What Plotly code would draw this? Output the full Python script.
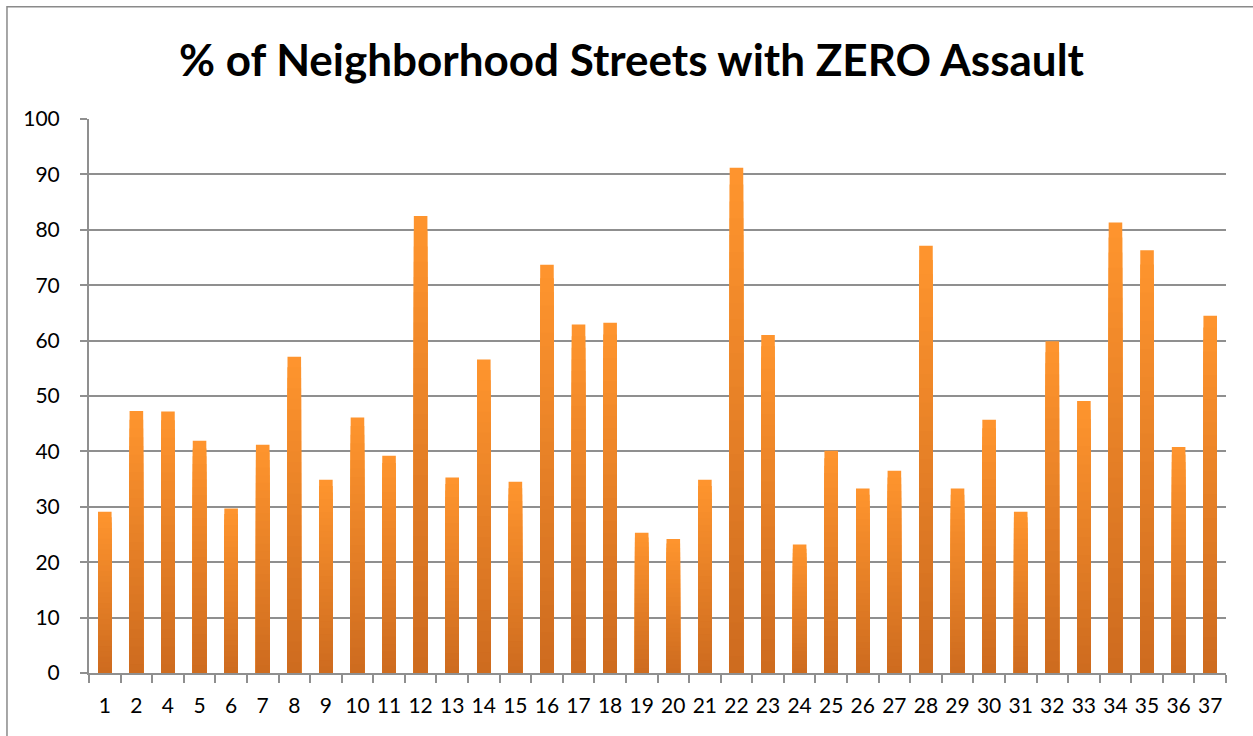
import plotly.graph_objects as go

# Neighborhood IDs (no 3 in the series) and share of streets with zero assaults
neighborhoods = ["1", "2", "4", "5", "6", "7", "8", "9", "10", "11", "12", "13",
                 "14", "15", "16", "17", "18", "19", "20", "21", "22", "23", "24",
                 "25", "26", "27", "28", "29", "30", "31", "32", "33", "34", "35",
                 "36", "37"]
pct_zero_assault = [29.1, 47.3, 47.2, 41.9, 29.7, 41.2, 57.1, 34.9, 46.1, 39.2,
                    82.5, 35.3, 56.6, 34.5, 73.7, 62.9, 63.2, 25.3, 24.2, 34.9,
                    91.2, 61.0, 23.2, 40.1, 33.3, 36.5, 77.1, 33.3, 45.7, 29.1,
                    59.9, 49.1, 81.3, 76.3, 40.8, 64.5]
y_ticks = [0, 10, 20, 30, 40, 50, 60, 70, 80, 90, 100]

W, H = 1253, 736
L, R, T, B = 89, 1225.7, 119.3, 673.3

# Vertical orange gradient on each bar: stacked overlay layers, lighter on top
TOP = (255, 149, 46)
BOTTOM = (205, 107, 31)
N_LAYERS = 30

fig = go.Figure()
for k in range(N_LAYERS):
    frac = (N_LAYERS - k) / N_LAYERS
    t = frac - 0.5 / N_LAYERS
    col = tuple(round(BOTTOM[i] + (TOP[i] - BOTTOM[i]) * t) for i in range(3))
    fig.add_trace(go.Bar(
        x=neighborhoods,
        y=[v * frac for v in pct_zero_assault],
        marker=dict(color="rgb(%d,%d,%d)" % col, line=dict(width=0)),
        hoverinfo="skip" if k else None,
        showlegend=False,
    ))

def px_x(px):
    return (px - L) / (R - L)

def px_y(py):
    return (B - py) / (B - T)

grid_col = "#8f8f8f"
FONT = "Lato, Carlito, Calibri, sans-serif"

fig.update_layout(
    width=W, height=H,
    margin=dict(l=L, r=W - R, t=T, b=H - B),
    paper_bgcolor="white",
    plot_bgcolor="white",
    barmode="overlay",
    bargap=0.57,
    font=dict(family=FONT, color="#000000"),
    title=dict(
        text="<b>% of Neighborhood Streets with ZERO Assault</b>",
        font=dict(size=44, family=FONT, color="#000000"),
        x=631.5 / W, xref="container", xanchor="center",
        y=1 - 61 / H, yref="container", yanchor="middle",
    ),
    xaxis=dict(
        type="category",
        showgrid=False,
        showline=True, linecolor=grid_col, linewidth=2,
        ticks="outside", ticklen=8, tickcolor=grid_col, tickwidth=2,
        tickson="boundaries",
        tickangle=0,
        tickfont=dict(size=21),
        ticklabelstandoff=13,
        fixedrange=True,
    ),
    yaxis=dict(
        range=[0, 100],
        tickvals=y_ticks,
        showgrid=True, gridcolor=grid_col, gridwidth=2,
        zeroline=False,
        showline=True, linecolor=grid_col, linewidth=2,
        ticks="outside", ticklen=7, tickcolor=grid_col, tickwidth=2,
        tickfont=dict(size=21),
        ticklabelstandoff=16,
        fixedrange=True,
    ),
    shapes=[
        dict(type="rect", xref="paper", yref="paper",
             x0=px_x(7), x1=px_x(W + 20), y0=px_y(7), y1=px_y(H + 20),
             line=dict(color="#8a8a8a", width=1.5), layer="below"),
    ],
)

fig.write_html("out.html")
